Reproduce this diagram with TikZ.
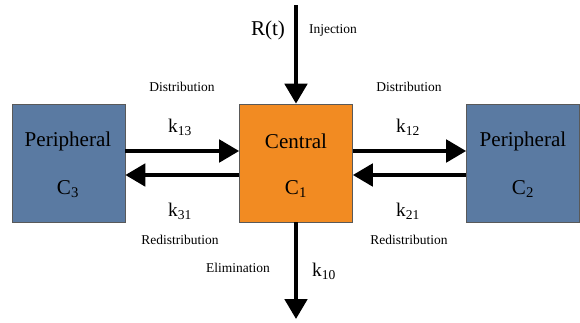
\documentclass[tikz,border=0pt]{standalone}
\usepackage{fontspec}
\setmainfont{Liberation Serif}
\usetikzlibrary{arrows.meta}

\definecolor{periblue}{HTML}{5A7AA2}
\definecolor{centorange}{HTML}{F28B22}

\tikzset{
    comp/.style={draw=black!65, line width=0.6pt, minimum width=3.39cm, minimum height=3.54cm, inner sep=0pt},
    flow/.style={line width=3.4pt, -{Triangle[width=19pt, length=17pt]}},
    big/.style={font=\fontsize{18}{21}\selectfont},
    rate/.style={font=\fontsize{16.5}{19}\selectfont},
    small/.style={font=\fontsize{11.5}{13}\selectfont}
}

\begin{document}
\begin{tikzpicture}[x=0.03cm, y=-0.03cm]
    \useasboundingbox (0,0) rectangle (580,322);

    % compartments
    \node[comp, fill=periblue] (c3) at (68.5,163) {};
    \node[comp, fill=centorange] (c1) at (296,163) {};
    \node[comp, fill=periblue] (c2) at (523,163) {};

    \node[big] (p3) at (68,141) {Peripheral};
    \node[big] (n3) at (68,189) {C\textsubscript{3}};
    \node[big] (p1) at (296,141) {Central};
    \node[big] (n1) at (296,189) {C\textsubscript{1}};
    \node[big] (p2) at (523,141) {Peripheral};
    \node[big] (n2) at (523,189) {C\textsubscript{2}};

    % injection and elimination
    \coordinate (inj) at (296,5);
    \coordinate (elim) at (296,319);
    \draw[flow] (inj) -- (c1.north);
    \draw[flow] (c1.south) -- (elim);
    \node[big] (rt) at (268,30) {R(t)};
    \node[small] (injlab) at (333,30) {Injection};
    \node[small] (elimlab) at (238,268) {Elimination};
    \node[rate] (k10) at (324,271) {k\textsubscript{10}};

    % exchange with C3
    \draw[flow] ([yshift=0.36cm]c3.east) -- ([yshift=0.36cm]c1.west);
    \draw[flow] ([yshift=-0.36cm]c1.west) -- ([yshift=-0.36cm]c3.east);
    \node[rate] (k13) at (180,127) {k\textsubscript{13}};
    \node[rate] (k31) at (180,211) {k\textsubscript{31}};
    \node[small] (dist3) at (182,87) {Distribution};
    \node[small] (redist3) at (180,240) {Redistribution};

    % exchange with C2
    \draw[flow] ([yshift=0.36cm]c1.east) -- ([yshift=0.36cm]c2.west);
    \draw[flow] ([yshift=-0.36cm]c2.west) -- ([yshift=-0.36cm]c1.east);
    \node[rate] (k12) at (408,127) {k\textsubscript{12}};
    \node[rate] (k21) at (408,211) {k\textsubscript{21}};
    \node[small] (dist2) at (409,87) {Distribution};
    \node[small] (redist2) at (409,240) {Redistribution};
\end{tikzpicture}
\end{document}
